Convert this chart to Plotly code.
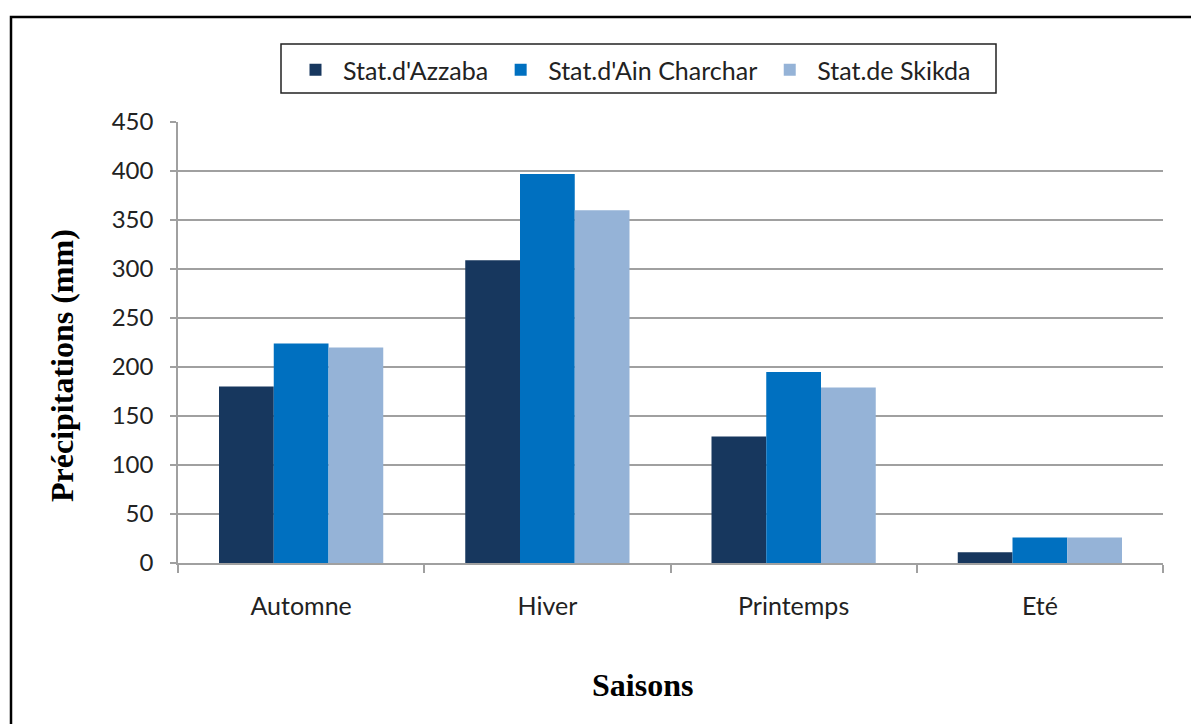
import plotly.graph_objects as go

saisons = ["Automne", "Hiver", "Printemps", "Eté"]
azzaba = [180, 309, 129, 11]
ain_charchar = [224, 397, 195, 26]
skikda = [220, 360, 179, 26]
series_names = ["Stat.d'Azzaba", "Stat.d'Ain Charchar", "Stat.de Skikda"]
colors = ["#17375E", "#0070C0", "#95B3D7"]
y_ticks = [0, 50, 100, 150, 200, 250, 300, 350, 400, 450]

fig = go.Figure()
for name, vals, col in zip(series_names, [azzaba, ain_charchar, skikda], colors):
    fig.add_trace(go.Bar(x=saisons, y=vals, name=name, marker=dict(color=col, line=dict(width=0))))

OFF = 8  # body margin of the html page
W, H = 1191, 716
L, R, T, B = 178 - OFF, 36, 122 - OFF, 161
pw, ph = W - L - R, H - T - B

def px2paper_x(x):
    return (x - OFF - L) / pw

def px2paper_y(y):
    return 1 - (y - OFF - T) / ph

title_font = dict(family="Liberation Serif", size=32, color="black", weight="bold")

fig.update_layout(
    width=W, height=H,
    margin=dict(l=L, r=R, t=T, b=B),
    paper_bgcolor="white", plot_bgcolor="white",
    barmode="group", bargap=0.333, bargroupgap=0,
    font=dict(family="Lato", size=24, color="#222222"),
    legend=dict(
        orientation="h",
        x=px2paper_x(288), xanchor="left",
        y=px2paper_y(47), yanchor="top",
        borderwidth=0,
        font=dict(family="Lato", size=25, color="#222222"),
        itemwidth=45,
        bgcolor="rgba(0,0,0,0)",
    ),
    xaxis=dict(
        showgrid=False, showline=True, linecolor="#A0A0A0", linewidth=1.5,
        ticks="outside", tickson="boundaries", ticklen=8, tickcolor="#A0A0A0", tickwidth=1.5,
        ticklabelstandoff=20, tickfont=dict(size=25),
    ),
    yaxis=dict(
        range=[0, 450], tickvals=y_ticks, showgrid=True, gridcolor="#A0A0A0", gridwidth=1.5,
        showline=True, linecolor="#A0A0A0", linewidth=1.5,
        ticks="outside", ticklen=6, tickcolor="#A0A0A0", tickwidth=1.5,
        ticklabelstandoff=12, zeroline=False, tickfont=dict(size=24),
    ),
)

fig.add_annotation(text="Précipitations (mm)", textangle=-90, showarrow=False,
                   xref="paper", yref="paper", x=px2paper_x(62), y=px2paper_y(366),
                   xanchor="center", yanchor="middle", font=title_font)
fig.add_annotation(text="Saisons", showarrow=False,
                   xref="paper", yref="paper", x=px2paper_x(642), y=px2paper_y(685),
                   xanchor="center", yanchor="middle", font=title_font)

# outer frame
fig.add_shape(type="rect", xref="paper", yref="paper",
              x0=px2paper_x(11), x1=px2paper_x(1230),
              y0=px2paper_y(780), y1=px2paper_y(17),
              line=dict(color="black", width=2.5), layer="below")
# legend frame
fig.add_shape(type="rect", xref="paper", yref="paper",
              x0=px2paper_x(281), x1=px2paper_x(996),
              y0=px2paper_y(93), y1=px2paper_y(44),
              line=dict(color="#222222", width=1.5), layer="below")

fig.write_html("out.html")
